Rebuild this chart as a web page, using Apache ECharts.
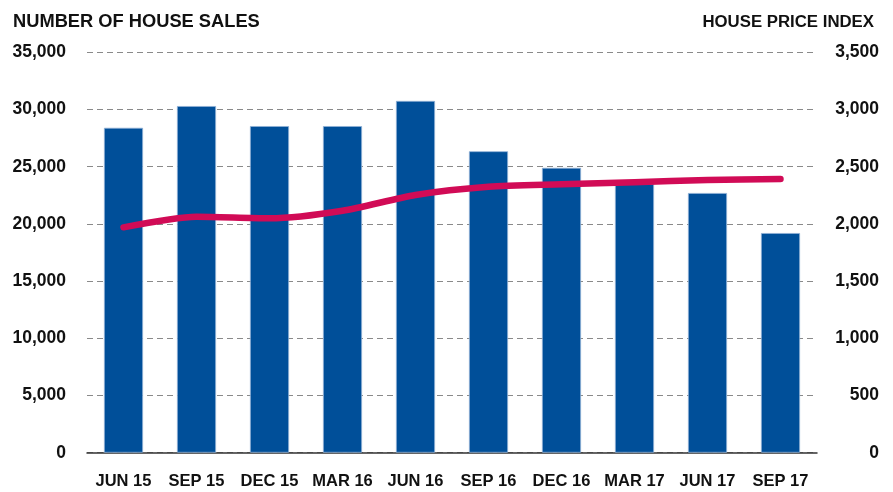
<!DOCTYPE html>
<html>
<head>
<meta charset="utf-8">
<script src="https://cdn.jsdelivr.net/npm/echarts@6/dist/echarts.min.js"></script>
<style>
html,body{margin:0;padding:0;background:#fff;}
#chart{width:893px;height:492px;}
</style>
</head>
<body>
<div id="chart"></div>
<script>
const categories = ['JUN 15','SEP 15','DEC 15','MAR 16','JUN 16','SEP 16','DEC 16','MAR 17','JUN 17','SEP 17'];
const houseSales = [28400, 30300, 28550, 28550, 30750, 26350, 24900, 23500, 22700, 19200];
const priceIndex = [1970, 2063, 2049, 2115, 2253, 2325, 2346, 2364, 2384, 2393];
const leftAxisTitle = 'NUMBER OF HOUSE SALES';
const rightAxisTitle = 'HOUSE PRICE INDEX';

const FONT = '"Liberation Sans", Arial, Helvetica, sans-serif';
const chart = echarts.init(document.getElementById('chart'));
const fmt = v => v.toLocaleString('en-US');
chart.setOption({
  animation: false,
  backgroundColor: '#ffffff',
  title: [
    {text: leftAxisTitle, left: 8, top: 8, textStyle: {fontFamily: FONT, fontWeight: 'bold', fontSize: 18.3, color: '#111'}},
    {text: rightAxisTitle, right: 14, top: 9, textStyle: {fontFamily: FONT, fontWeight: 'bold', fontSize: 16.8, color: '#111'}}
  ],
  grid: {left: 87, right: 76, top: 52.3, bottom: 39.3, containLabel: false},
  xAxis: {
    type: 'category', data: categories,
    axisLine: {show: true, lineStyle: {color: '#333', width: 1.5}},
    axisTick: {show: false},
    axisLabel: {fontFamily: FONT, fontWeight: 'bold', fontSize: 16.5, color: '#111', margin: 20, interval: 0}
  },
  yAxis: [
    {type: 'value', min: 0, max: 35000, interval: 5000,
     axisLine: {show: false}, axisTick: {show: false},
     axisLabel: {fontFamily: FONT, fontWeight: 'bold', fontSize: 17.5, color: '#111', margin: 21, formatter: fmt},
     splitLine: {show: true, lineStyle: {color: '#8a8a8a', type: [6, 4], width: 1.2}}},
    {type: 'value', min: 0, max: 3500, interval: 500, position: 'right',
     axisLine: {show: false}, axisTick: {show: false},
     axisLabel: {fontFamily: FONT, fontWeight: 'bold', fontSize: 17.5, color: '#111', margin: 62, align: 'right', formatter: fmt},
     splitLine: {show: false}}
  ],
  series: [
    {type: 'bar', data: houseSales, yAxisIndex: 0, barWidth: '53.5%',
     itemStyle: {color: '#004f99', borderColor: '#8fb0d6', borderWidth: 0.8}},
    {type: 'line', data: priceIndex, yAxisIndex: 1, smooth: 0.25, symbol: 'none',
     lineStyle: {color: '#d10b56', width: 6.5, cap: 'round', join: 'round'}}
  ]
});
</script>
</body>
</html>
